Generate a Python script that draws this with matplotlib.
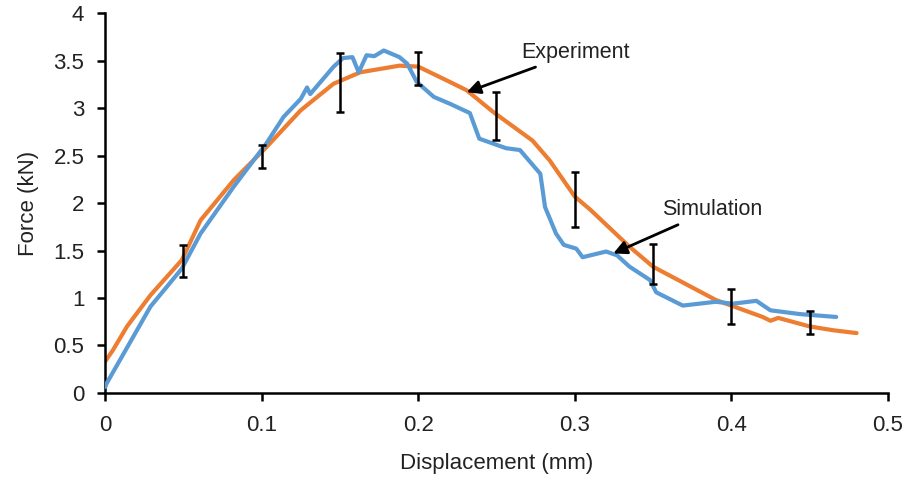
import matplotlib
matplotlib.use("Agg")
import matplotlib.pyplot as plt

plt.rcParams['font.family'] = ['Liberation Sans', 'DejaVu Sans']

# Experiment (orange) curve
exp_x = [0.0, 0.005, 0.014, 0.029, 0.049, 0.061, 0.082, 0.103, 0.125, 0.146, 0.163,
         0.188, 0.20, 0.22, 0.231, 0.248, 0.273, 0.284, 0.30, 0.31, 0.335, 0.35,
         0.39, 0.42, 0.425, 0.43, 0.45, 0.465, 0.48]
exp_y = [0.33, 0.45, 0.70, 1.03, 1.40, 1.82, 2.24, 2.59, 2.98, 3.26, 3.38,
         3.45, 3.44, 3.28, 3.19, 2.96, 2.66, 2.45, 2.07, 1.93, 1.54, 1.33,
         0.98, 0.80, 0.76, 0.79, 0.70, 0.66, 0.63]

# Simulation (blue) curve
sim_x = [0.0, 0.001, 0.029, 0.049, 0.061, 0.082, 0.103, 0.114, 0.125, 0.129, 0.131,
         0.146, 0.152, 0.158, 0.162, 0.167, 0.172, 0.178, 0.188, 0.193, 0.199,
         0.21, 0.22, 0.233, 0.239, 0.256, 0.265, 0.278, 0.281, 0.288, 0.293, 0.301,
         0.305, 0.32, 0.327, 0.335, 0.348, 0.352, 0.369, 0.39, 0.401, 0.416,
         0.425, 0.444, 0.467]
sim_y = [0.06, 0.10, 0.91, 1.31, 1.68, 2.17, 2.63, 2.91, 3.10, 3.22, 3.15,
         3.44, 3.53, 3.54, 3.38, 3.56, 3.55, 3.61, 3.54, 3.47, 3.28,
         3.12, 3.05, 2.95, 2.68, 2.58, 2.56, 2.31, 1.96, 1.68, 1.56, 1.52,
         1.43, 1.49, 1.45, 1.33, 1.19, 1.06, 0.92, 0.96, 0.94, 0.97,
         0.87, 0.83, 0.80]

# Error bars
err_x = [0.05, 0.10, 0.15, 0.20, 0.25, 0.30, 0.35, 0.40, 0.45]
err_y = [1.39, 2.49, 3.27, 3.42, 2.92, 2.04, 1.36, 0.91, 0.745]
err_e = [0.17, 0.12, 0.31, 0.17, 0.25, 0.29, 0.21, 0.18, 0.12]

x_ticks = [0, 0.1, 0.2, 0.3, 0.4, 0.5]
x_ticklabels = ['0', '0.1', '0.2', '0.3', '0.4', '0.5']
y_ticks = [0, 0.5, 1, 1.5, 2, 2.5, 3, 3.5, 4]
y_ticklabels = ['0', '0.5', '1', '1.5', '2', '2.5', '3', '3.5', '4']

fig = plt.figure(figsize=(9.06, 4.82), dpi=100)
ax = fig.add_axes([0.116, 0.185, 0.864, 0.787])

ax.plot(exp_x, exp_y, color='#ED7D31', lw=3, solid_capstyle='round', zorder=2)
ax.plot(sim_x, sim_y, color='#5B9BD5', lw=3, solid_capstyle='round', zorder=3)
ax.errorbar(err_x, err_y, yerr=err_e, fmt='none', ecolor='black', elinewidth=1.8,
            capsize=3, capthick=1.8, zorder=4)

ax.set_xlim(0, 0.5)
ax.set_ylim(0, 4)
ax.set_xticks(x_ticks)
ax.set_xticklabels(x_ticklabels)
ax.set_yticks(y_ticks)
ax.set_yticklabels(y_ticklabels)
for s in ['top', 'right']:
    ax.spines[s].set_visible(False)
for s in ['left', 'bottom']:
    ax.spines[s].set_linewidth(1.8)
ax.tick_params(direction='out', length=6, width=1.8, labelsize=16, colors='black',
               labelcolor='#222222')
ax.tick_params(axis='x', pad=10)
ax.tick_params(axis='y', pad=9)
ax.set_xlabel('Displacement (mm)', fontsize=16, color='#222222', labelpad=12)
ax.set_ylabel('Force (kN)', fontsize=16, color='#222222', labelpad=10)

ax.annotate('Experiment', xy=(0.231, 3.17), xytext=(0.266, 3.59),
            fontsize=15.5, color='#222222', va='center', ha='left',
            arrowprops=dict(arrowstyle='-|>', color='black', lw=2,
                            shrinkA=3, shrinkB=0, mutation_scale=20))
ax.annotate('Simulation', xy=(0.3246, 1.47), xytext=(0.3555, 1.93),
            fontsize=15.5, color='#222222', va='center', ha='left',
            arrowprops=dict(arrowstyle='-|>', color='black', lw=2,
                            shrinkA=3, shrinkB=0, mutation_scale=20))

fig.savefig('out.png', dpi=100)
